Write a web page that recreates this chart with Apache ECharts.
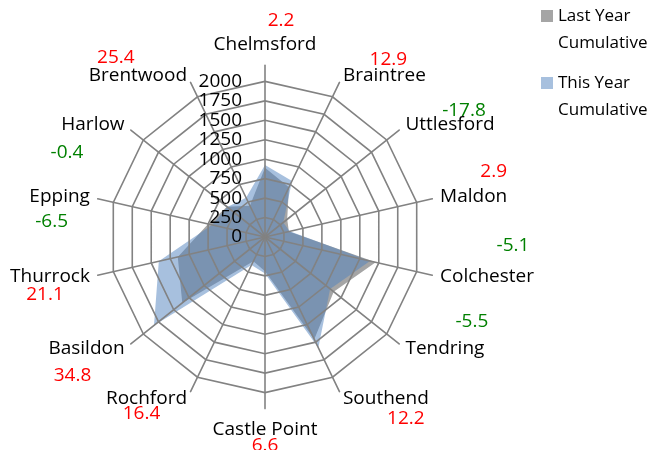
<!DOCTYPE html>
<html><head><meta charset="utf-8">
<script src="https://cdn.jsdelivr.net/npm/echarts@6/dist/echarts.min.js"></script>
<style>html,body{margin:0;padding:0;background:#fff}#c{width:660px;height:450px}</style>
</head><body><div id="c"></div>
<script>
// ---- data (clockwise from top) ----
const categories = ['Chelmsford','Braintree','Uttlesford','Maldon','Colchester','Tendring','Southend','Castle Point','Rochford','Basildon','Thurrock','Epping','Harlow','Brentwood'];
const lastYear = [890, 710, 365, 315, 1460, 1130, 1460, 440, 345, 1360, 1150, 750, 625, 447];
const thisYear = [925, 800, 300, 325, 1385, 1070, 1580, 470, 400, 1825, 1400, 700, 620, 560];
const changePct = ['2.2','12.9','-17.8','2.9','-5.1','-5.5','12.2','6.6','16.4','34.8','21.1','-6.5','-0.4','25.4'];
const axisMax = 2000;
const axisSplits = 8;
const seriesNames = ['Last Year Cumulative','This Year Cumulative'];

// ---- layout of the change labels relative to the category name centre (px) ----
const changeLabelShift = [[16,-24],[4,-16],[14,-14],[20,-25],[26,-31],[27,-27],[20,20],[0,16],[-5,15],[-14,27],[-5,18],[-8,25],[-26,28],[-22,-18]];

const FONT = 'Open Sans';
const NAME_SIZE = 19;
const LINE = 20;
const ctx = document.createElement('canvas').getContext('2d');
ctx.font = NAME_SIZE + 'px "' + FONT + '"';
const tw = t => ctx.measureText(t).width;

// ECharts radar runs counter-clockwise; reorder so the picture reads clockwise
const ccw = arr => [arr[0]].concat(arr.slice(1).reverse());

const rich = {};
categories.forEach((name, i) => {
  const pct = changePct[i];
  const color = parseFloat(pct) < 0 ? '#008000' : '#FF0000';
  const [dx, dy] = changeLabelShift[i];
  const h = Math.max(2 * Math.abs(dy) - LINE, 1);
  const wn = tw(name), wv = tw(pct);
  let align, pad;
  if (i === 0 || i === 7) { align = 'center'; pad = dx >= 0 ? [0,0,0,2*dx] : [0,-2*dx,0,0]; }
  else if (i < 7) { align = 'left'; pad = [0,0,0,Math.max(0, wn/2 + dx - wv/2)]; }
  else { align = 'right'; pad = [0,Math.max(0, wn/2 - dx - wv/2),0,0]; }
  rich['v' + i] = {color, fontSize: NAME_SIZE, fontFamily: FONT, lineHeight: h, padding: pad, align};
  rich['e' + i] = {fontSize: NAME_SIZE, fontFamily: FONT, lineHeight: h, align};
  rich['n' + i] = {color: '#000', fontSize: NAME_SIZE, fontFamily: FONT, lineHeight: LINE, align};
  rich['s' + i] = {fontSize: 2, lineHeight: 3, align};
});

function nameFormatter(name) {
  const i = categories.indexOf(name);
  const pct = changePct[i];
  const dy = changeLabelShift[i][1];
  if (i === 0) return '{v0|' + pct + '}\n{n0|' + name + '}\n{s0| }';
  if (i === 7) return '{s7| }\n{n7|' + name + '}\n{v7|' + pct + '}';
  if (dy < 0) return '{v' + i + '|' + pct + '}\n{n' + i + '|' + name + '}\n{e' + i + '| }';
  return '{e' + i + '| }\n{n' + i + '|' + name + '}\n{v' + i + '|' + pct + '}';
}

const GRID = '#828282';
const option = {
  animation: false,
  legend: [
    {data: [{name: seriesNames[0], itemStyle: {color: '#A5A5A5'}}], left: 541, top: -24.5, padding: 0,
     icon: 'rect', itemWidth: 12, itemHeight: 12, formatter: () => '\nLast Year\nCumulative',
     textStyle: {fontFamily: FONT, fontSize: 17, color: '#000', lineHeight: 27}},
    {data: [{name: seriesNames[1], itemStyle: {color: '#A7C0DE'}}], left: 541, top: 42.5, padding: 0,
     icon: 'rect', itemWidth: 12, itemHeight: 12, formatter: () => '\nThis Year\nCumulative',
     textStyle: {fontFamily: FONT, fontSize: 17, color: '#000', lineHeight: 27}}
  ],
  radar: [
    {
      center: [265, 237], radius: 155.6, startAngle: 90, shape: 'polygon', splitNumber: axisSplits,
      indicator: ccw(categories).map((n, k) => k === 0
        ? {name: n, min: 0, max: axisMax, axisLabel: {show: true}}
        : {name: n, min: 0, max: axisMax}),
      axisName: {show: false},
      axisLine: {show: false},
      splitLine: {lineStyle: {color: GRID, width: 1.6}},
      splitArea: {show: false},
      axisLabel: {show: false, fontFamily: FONT, fontSize: 19, color: '#000', margin: 23,
                  showMinLabel: true, showMaxLabel: true, hideOverlap: false,
                  formatter: v => String(v)},
      z: 5
    },
    {
      center: [265, 237], radius: 171.6, startAngle: 90, shape: 'polygon', splitNumber: 1,
      indicator: ccw(categories).map(n => ({name: n, min: 0, max: 1})),
      axisName: {show: true, formatter: nameFormatter, rich: rich, fontFamily: FONT, fontSize: NAME_SIZE, color: '#000'},
      nameGap: 8,
      axisLine: {lineStyle: {color: GRID, width: 1.6}},
      splitLine: {show: false},
      splitArea: {show: false},
      axisLabel: {show: false},
      z: 5
    }
  ],
  series: [{
    type: 'radar', radarIndex: 0, symbol: 'none', z: 2,
    data: [
      {name: seriesNames[0], value: ccw(lastYear), lineStyle: {width: 0}, itemStyle: {color: '#A5A5A5'},
       areaStyle: {color: '#A5A5A5', opacity: 1}},
      {name: seriesNames[1], value: ccw(thisYear), lineStyle: {width: 0}, itemStyle: {color: '#4F81BD'},
       areaStyle: {color: '#4F81BD', opacity: 0.5}}
    ]
  }]
};
const chart = echarts.init(document.getElementById('c'), null, {renderer: 'canvas'});
chart.setOption(option);
</script>
</body></html>
